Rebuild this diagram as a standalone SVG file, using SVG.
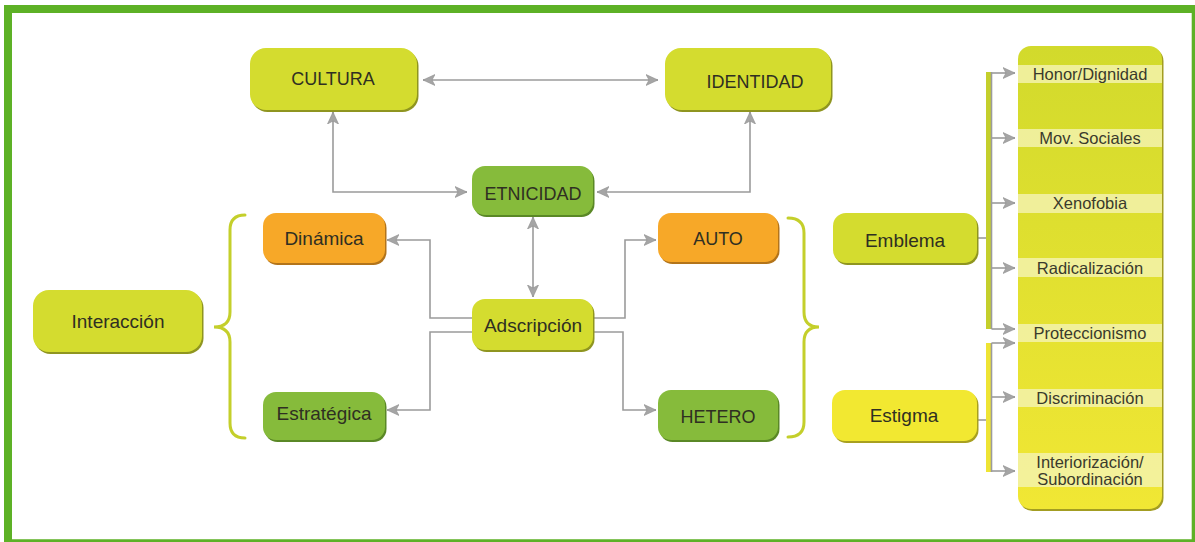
<svg xmlns="http://www.w3.org/2000/svg" width="1195" height="542" viewBox="0 0 1195 542">
<defs>
<style>
.lbl{font-family:"Liberation Sans",Arial,sans-serif;font-size:18px;fill:#2f2f22;text-anchor:middle}
.lbl2{font-family:"Liberation Sans",Arial,sans-serif;font-size:19px;fill:#2f2f22;text-anchor:middle}
.col{font-family:"Liberation Sans",Arial,sans-serif;font-size:16.5px;fill:#3a3a2c;text-anchor:middle}
.yg{fill:#d4dc2f}.ygs{fill:#8f9520}
.gr{fill:#86bb3b}.grs{fill:#5a8826}
.or{fill:#f7a828}.ors{fill:#b3741a}
.ye{fill:#f2e831}.yes{fill:#a8a020}
.conn{fill:none;stroke:#9b9b9b;stroke-width:1.6}
.brace{fill:none;stroke:#c4cf2b;stroke-width:3;stroke-linecap:round}
.band{fill:#f3f2ad;opacity:0.85}
</style>
<marker id="ah" markerUnits="userSpaceOnUse" markerWidth="14" markerHeight="12" refX="12" refY="6" orient="auto-start-reverse">
<path d="M0,0.5 L12,6 L0,11.5 L3,6 z" fill="#a5a5a5" stroke="#8e8e8e" stroke-width="0.6"/>
</marker>
<linearGradient id="colg" x1="0" y1="0" x2="0" y2="1">
<stop offset="0" stop-color="#d2da2c"/>
<stop offset="1" stop-color="#f1e734"/>
</linearGradient>
</defs>
<rect width="1195" height="542" fill="#ffffff"/>
<path d="M4,5 H1195 V542 H4 Z M12,13 V539.3 H1191.7 V13 Z" fill="#5db126" fill-rule="evenodd"/>

<g id="connectors">
<path class="conn" d="M423,80 L658,80" marker-start="url(#ah)" marker-end="url(#ah)"/>
<path class="conn" d="M333,112 L333,192 L467,192" marker-start="url(#ah)" marker-end="url(#ah)"/>
<path class="conn" d="M750,112 L750,192 L597,192" marker-start="url(#ah)" marker-end="url(#ah)"/>
<path class="conn" d="M533,217 L533,297" marker-start="url(#ah)" marker-end="url(#ah)"/>
<path class="conn" d="M472,318 L430,318 L430,240 L387,240" marker-end="url(#ah)"/>
<path class="conn" d="M472,332 L430,332 L430,410 L387,410" marker-end="url(#ah)"/>
<path class="conn" d="M593,318 L625,318 L625,240 L656,240" marker-end="url(#ah)"/>
<path class="conn" d="M593,332 L623,332 L623,410 L656,410" marker-end="url(#ah)"/>
<path class="brace" d="M245,215 Q230,215 230,230 L230,312 Q230,327 214,327 Q230,327 230,342 L230,423 Q230,438 245,438"/>
<path class="brace" d="M788,218 Q804,218 804,233 L804,312 Q804,327 819,327 Q804,327 804,342 L804,422 Q804,437 788,437"/>
<path class="conn" d="M977,238 L987,238"/>
<rect x="986" y="72" width="5" height="257" fill="#c4cf2b"/>
<path class="conn" d="M991.5,72 L991.5,329"/>
<path class="conn" d="M991.5,73 L1015,73" marker-end="url(#ah)"/>
<path class="conn" d="M991.5,138 L1015,138" marker-end="url(#ah)"/>
<path class="conn" d="M991.5,203 L1015,203" marker-end="url(#ah)"/>
<path class="conn" d="M991.5,268 L1015,268" marker-end="url(#ah)"/>
<path class="conn" d="M991.5,329 L1015,329" marker-end="url(#ah)"/>
<path class="conn" d="M977,420 L987,420"/>
<rect x="986" y="343" width="5" height="129" fill="#eee434"/>
<path class="conn" d="M991.5,343 L991.5,472"/>
<path class="conn" d="M991.5,343 L1015,343" marker-end="url(#ah)"/>
<path class="conn" d="M991.5,397 L1015,397" marker-end="url(#ah)"/>
<path class="conn" d="M991.5,471 L1015,471" marker-end="url(#ah)"/>
</g>

<g id="cultura">
<rect class="ygs" x="251.5" y="50" width="167" height="62" rx="16"/>
<rect class="yg" x="250" y="48" width="167" height="62" rx="16"/>
<text class="lbl" x="333" y="85">CULTURA</text>
</g>
<g id="identidad">
<rect class="ygs" x="666.5" y="50" width="166" height="62" rx="16"/>
<rect class="yg" x="665" y="48" width="166" height="62" rx="16"/>
<text class="lbl" x="755" y="88">IDENTIDAD</text>
</g>
<g id="etnicidad">
<rect class="grs" x="473.5" y="168" width="121" height="49" rx="13"/>
<rect class="gr" x="472" y="166" width="121" height="49" rx="13"/>
<text class="lbl" x="533" y="200">ETNICIDAD</text>
</g>
<g id="adscripcion">
<rect class="ygs" x="473.5" y="301" width="121" height="51" rx="13"/>
<rect class="yg" x="472" y="299" width="121" height="51" rx="13"/>
<text class="lbl2" x="533" y="332">Adscripción</text>
</g>
<g id="dinamica">
<rect class="ors" x="264.5" y="215" width="122" height="50" rx="13"/>
<rect class="or" x="263" y="213" width="122" height="50" rx="13"/>
<text class="lbl2" x="324" y="245">Dinámica</text>
</g>
<g id="estrategica">
<rect class="grs" x="264.5" y="394" width="122" height="48" rx="13"/>
<rect class="gr" x="263" y="392" width="122" height="48" rx="13"/>
<text class="lbl2" x="324" y="420">Estratégica</text>
</g>
<g id="auto">
<rect class="ors" x="659.5" y="215" width="120" height="49" rx="13"/>
<rect class="or" x="658" y="213" width="120" height="49" rx="13"/>
<text class="lbl" x="718" y="245">AUTO</text>
</g>
<g id="hetero">
<rect class="grs" x="659.5" y="392" width="120" height="50" rx="13"/>
<rect class="gr" x="658" y="390" width="120" height="50" rx="13"/>
<text class="lbl" x="718" y="423">HETERO</text>
</g>
<g id="interaccion">
<rect class="ygs" x="34.5" y="292" width="169" height="62" rx="16"/>
<rect class="yg" x="33" y="290" width="169" height="62" rx="16"/>
<text class="lbl2" x="118" y="328">Interacción</text>
</g>
<g id="emblema">
<rect class="ygs" x="834.5" y="215" width="144" height="50" rx="13"/>
<rect class="yg" x="833" y="213" width="144" height="50" rx="13"/>
<text class="lbl2" x="905" y="247">Emblema</text>
</g>
<g id="estigma">
<rect class="yes" x="833.5" y="392" width="145" height="51" rx="13"/>
<rect class="ye" x="832" y="390" width="145" height="51" rx="13"/>
<text class="lbl2" x="904" y="422">Estigma</text>
</g>
<g id="columna">
<rect x="1019.5" y="48" width="144" height="463" rx="13" fill="#a39d22"/>
<rect x="1018" y="46" width="144" height="463" rx="13" fill="url(#colg)"/>
<rect class="band" x="1018" y="65" width="144" height="18"/>
<rect class="band" x="1018" y="129" width="144" height="18"/>
<rect class="band" x="1018" y="194" width="144" height="19"/>
<rect class="band" x="1018" y="258" width="144" height="19"/>
<rect class="band" x="1018" y="324" width="144" height="18"/>
<rect class="band" x="1018" y="389" width="144" height="18"/>
<rect class="band" x="1018" y="453" width="144" height="34"/>
<text class="col" x="1090" y="80">Honor/Dignidad</text>
<text class="col" x="1090" y="144">Mov. Sociales</text>
<text class="col" x="1090" y="209">Xenofobia</text>
<text class="col" x="1090" y="274">Radicalización</text>
<text class="col" x="1090" y="339">Proteccionismo</text>
<text class="col" x="1090" y="404">Discriminación</text>
<text class="col" x="1090" y="468">Interiorización/</text>
<text class="col" x="1090" y="485">Subordinación</text>
</g>
</svg>
